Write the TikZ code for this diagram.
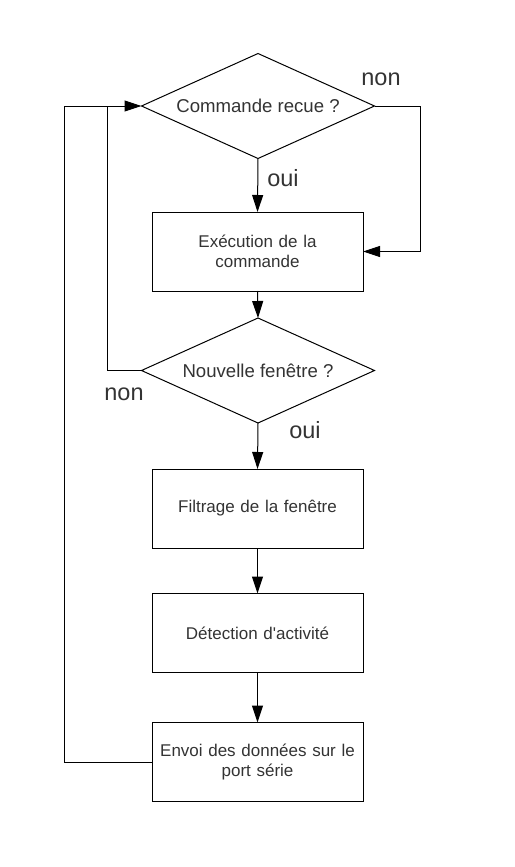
\documentclass[tikz,border=0pt]{standalone}
\usepackage{fontspec}
\newfontfamily\libsans{Liberation Sans}
\usetikzlibrary{shapes.geometric,arrows.meta}
\definecolor{txt}{HTML}{333333}
\begin{document}
\begin{tikzpicture}[x=1pt,y=-1pt,
  every node/.style={inner sep=0pt, outer sep=0pt},
  boxnode/.style={draw=black, line width=1pt, minimum width=211pt, minimum height=79pt,
    text width=200pt, align=center, font=\libsans\fontsize{17}{20.5}\selectfont, text=txt},
  decision/.style={draw=black, line width=1pt, diamond, aspect=2.22, minimum width=233pt, minimum height=105pt,
    font=\libsans\fontsize{18.6}{22}\selectfont, text=txt},
  lbl/.style={font=\libsans\fontsize{23.5}{28}\selectfont, text=txt},
  conn/.style={line width=1pt, -{Triangle[length=17pt,width=11pt]}},
  plain/.style={line width=1pt}]
\useasboundingbox (0,0) rectangle (514,867);
\node[decision] (d1) at (258,106) {Commande recue ?};
\node[boxnode] (b1) at (257.5,251.5) {Exécution de la\\commande};
\node[decision] (d2) at (258,370.5) {Nouvelle fenêtre ?};
\node[boxnode] (b2) at (257.5,508.5) {Filtrage de la fenêtre};
\node[boxnode] (b3) at (257.5,633) {Détection d'activité};
\node[boxnode] (b4) at (257.5,762) {Envoi des données sur le\\port série};
\coordinate (r1) at (420,106);
\coordinate (r2) at (420,251.5);
\coordinate (l1) at (107,370.5);
\coordinate (l2) at (107,106);
\coordinate (o1) at (64,762);
\coordinate (o2) at (64,106);
\draw[conn] (d1.south) -- (b1.north);
\draw[conn] (b1.south) -- (d2.north);
\draw[conn] (d2.south) -- (b2.north);
\draw[conn] (b2.south) -- (b3.north);
\draw[conn] (b3.south) -- (b4.north);
\draw[conn] (d1.east) -- (r1) -- (r2) -- (b1.east);
\draw[plain] (d2.west) -- (l1) -- (l2);
\draw[conn] (b4.west) -- (o1) -- (o2) -- (d1.west);
\node[lbl] (n1) at (381,79) {non};
\node[lbl] (y1) at (283,178) {oui};
\node[lbl] (n2) at (124,394) {non};
\node[lbl] (y2) at (305,430) {oui};
\end{tikzpicture}
\end{document}
